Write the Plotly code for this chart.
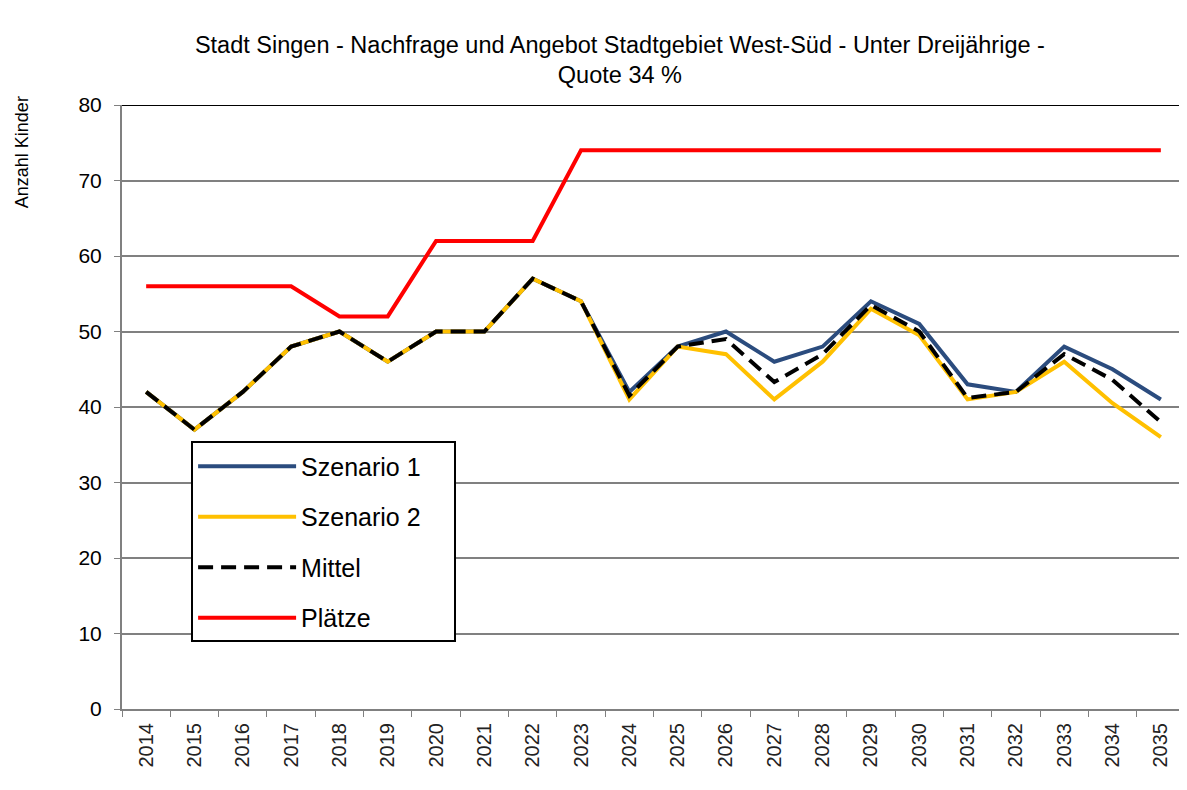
import plotly.graph_objects as go

years = [str(y) for y in range(2014, 2036)]
szenario1 = [42, 37, 42, 48, 50, 46, 50, 50, 57, 54, 42, 48, 50, 46, 48, 54, 51, 43, 42, 48, 45, 41]
szenario2 = [42, 37, 42, 48, 50, 46, 50, 50, 57, 54, 41, 48, 47, 41, 46, 53, 49.5, 41, 42, 46, 40.5, 36]
mittel = [42, 37, 42, 48, 50, 46, 50, 50, 57, 54, 41.5, 48, 49, 43.3, 47, 53.5, 50, 41.2, 42, 47, 43.6, 38]
plaetze = [56, 56, 56, 56, 52, 52, 62, 62, 62, 74, 74, 74, 74, 74, 74, 74, 74, 74, 74, 74, 74, 74]
y_ticks = [0, 10, 20, 30, 40, 50, 60, 70, 80]

FONT = "Liberation Sans, Arial, sans-serif"
PAD = "\u00a0" * 4

fig = go.Figure()
fig.add_trace(go.Scatter(x=years, y=szenario1, name="Szenario 1", mode="lines",
                         line=dict(color="#2B4C7E", width=4), legendgroup="a"))
fig.add_trace(go.Scatter(x=years, y=szenario2, name="Szenario 2" + PAD, mode="lines",
                         line=dict(color="#FFC000", width=4), legendgroup="b"))
fig.add_trace(go.Scatter(x=years, y=mittel, name="Mittel", mode="lines",
                         line=dict(color="#000000", width=4, dash="15px,8px"), legendgroup="c"))
fig.add_trace(go.Scatter(x=years, y=plaetze, name="Plätze", mode="lines",
                         line=dict(color="#FF0000", width=4), legendgroup="d"))

fig.update_layout(
    width=1179, height=782,
    margin=dict(l=114, r=2, t=97, b=81),
    paper_bgcolor="white", plot_bgcolor="white",
    font=dict(family=FONT, color="#000000"),
    title=dict(text="Stadt Singen - Nachfrage und Angebot Stadtgebiet West-Süd - Unter Dreijährige -<br>Quote 34 %",
               x=0.519, xref="container", xanchor="center", y=0.943, yref="container", yanchor="top",
               font=dict(size=23.5, family=FONT, color="#000000")),
    showlegend=True,
    legend=dict(x=0.065, y=0.443, xanchor="left", yanchor="top",
                bgcolor="white", bordercolor="#000000", borderwidth=2,
                font=dict(size=25, family=FONT, color="#000000"),
                tracegroupgap=15, itemwidth=98, traceorder="grouped"),
    xaxis=dict(type="category", showgrid=False, showline=True, linecolor="#808080", linewidth=2,
               ticks="outside", tickson="boundaries", ticklen=6, tickcolor="#808080",
               tickangle=-90, tickfont=dict(size=20, color="#222222", family=FONT),
               ticklabelstandoff=4, range=[-0.5, 21.5]),
    yaxis=dict(range=[0, 80], tickvals=y_ticks, showgrid=True, gridcolor="#808080", gridwidth=2,
               showline=True, linecolor="#808080", linewidth=2, ticks="outside", ticklen=6,
               tickcolor="#808080", tickfont=dict(size=21, color="#000000", family=FONT),
               ticklabelstandoff=8, zeroline=False),
)

fig.add_shape(type="line", xref="paper", yref="y", x0=0, x1=1, y0=80, y1=80,
              line=dict(color="#000000", width=2))

fig.add_annotation(text="Anzahl Kinder", xref="paper", yref="paper", x=-0.094, y=0.922,
                   xanchor="center", yanchor="middle", textangle=-90, showarrow=False,
                   font=dict(size=18, family=FONT, color="#000000"))

fig.write_html("out.html")
